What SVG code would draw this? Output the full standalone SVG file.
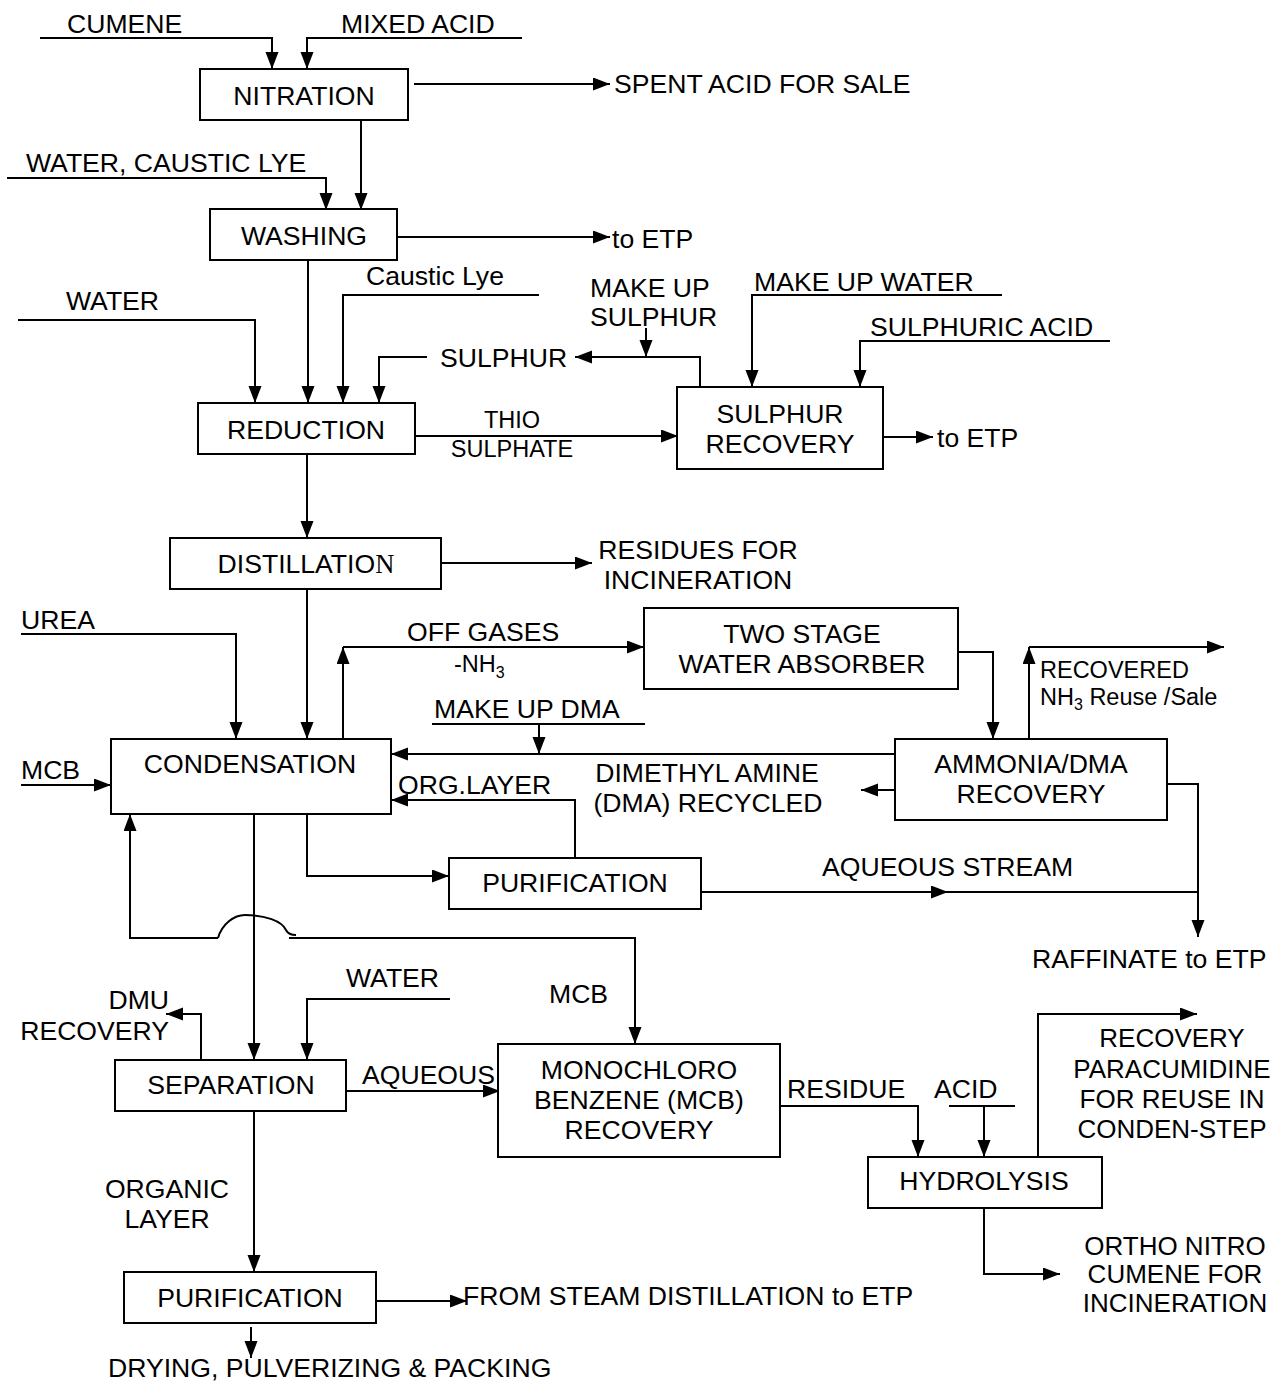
<svg xmlns="http://www.w3.org/2000/svg" width="1277" height="1381" viewBox="0 0 1277 1381">
<style>
text{font-family:"Liberation Sans",Arial,sans-serif;font-size:26.6px;fill:#000}
.s{font-size:23.5px}
.r{font-size:26px}
.m{text-anchor:middle}
.e{text-anchor:end}
rect{fill:#fff;stroke:#000;stroke-width:2}
#connectors path{fill:none;stroke:#000;stroke-width:2}
</style>
<defs>
<marker id="a" markerUnits="userSpaceOnUse" markerWidth="18" markerHeight="14" refX="17" refY="6.5" orient="auto">
<path d="M0,0 L17,6.5 L0,13 z" fill="#000"/>
</marker>
</defs>
<rect x="0" y="0" width="1277" height="1381" style="stroke:none"/>
<g id="connectors">
<path d="M40,38 H272 V69" marker-end="url(#a)"/>
<path d="M522,38 H307 V69" marker-end="url(#a)"/>
<path d="M414,84 H610" marker-end="url(#a)"/>
<path d="M361,120 V210" marker-end="url(#a)"/>
<path d="M7,178 H326 V210" marker-end="url(#a)"/>
<path d="M397,237 H610" marker-end="url(#a)"/>
<path d="M308,260 V403" marker-end="url(#a)"/>
<path d="M539,295 H343 V403" marker-end="url(#a)"/>
<path d="M18,320 H255 V403" marker-end="url(#a)"/>
<path d="M427,357 H379 V403" marker-end="url(#a)"/>
<path d="M700,387 V357 H575" marker-end="url(#a)"/>
<path d="M646,328 V357" marker-end="url(#a)"/>
<path d="M1002,295 H752 V387" marker-end="url(#a)"/>
<path d="M1110,341 H860 V387" marker-end="url(#a)"/>
<path d="M415,436 H678" marker-end="url(#a)"/>
<path d="M883,437 H933" marker-end="url(#a)"/>
<path d="M307,454 V538" marker-end="url(#a)"/>
<path d="M441,563 H592" marker-end="url(#a)"/>
<path d="M307,589 V739" marker-end="url(#a)"/>
<path d="M21,634 H236 V739" marker-end="url(#a)"/>
<path d="M21,785 H111" marker-end="url(#a)"/>
<path d="M343,739 V647" marker-end="url(#a)"/>
<path d="M343,647 H644" marker-end="url(#a)"/>
<path d="M958,652 H993 V739" marker-end="url(#a)"/>
<path d="M1029,739 V647" marker-end="url(#a)"/>
<path d="M1029,647 H1224" marker-end="url(#a)"/>
<path d="M432,724 H645"/>
<path d="M539,724 V754" marker-end="url(#a)"/>
<path d="M895,754 H391" marker-end="url(#a)"/>
<path d="M895,790 H861" marker-end="url(#a)"/>
<path d="M1167,784 H1198 V937" marker-end="url(#a)"/>
<path d="M700,892 H948" marker-end="url(#a)"/>
<path d="M940,892 H1198"/>
<path d="M575,858 V800 H391" marker-end="url(#a)"/>
<path d="M307,814 V876 H449" marker-end="url(#a)"/>
<path d="M254,814 V1060" marker-end="url(#a)"/>
<path d="M218,938 H130 V814" marker-end="url(#a)"/>
<path d="M218,938 C222,924 234,915 245,915 C265,915 282,921 286,930 C288,934 291,935 296,935"/>
<path d="M289,938 H635 V1044" marker-end="url(#a)"/>
<path d="M450,999 H307 V1060" marker-end="url(#a)"/>
<path d="M201,1060 V1014 H166" marker-end="url(#a)"/>
<path d="M346,1091 H500" marker-end="url(#a)"/>
<path d="M254,1111 V1272" marker-end="url(#a)"/>
<path d="M376,1301 H467" marker-end="url(#a)"/>
<path d="M251,1327 V1358" marker-end="url(#a)"/>
<path d="M780,1106 H918 V1157" marker-end="url(#a)"/>
<path d="M949,1106 H1015"/>
<path d="M984,1106 V1157" marker-end="url(#a)"/>
<path d="M1038,1157 V1014 H1197" marker-end="url(#a)"/>
<path d="M984,1208 V1274 H1060" marker-end="url(#a)"/>
</g>
<g id="nitration"><rect x="200" y="69" width="208" height="51"/><text class="m" x="304" y="105">NITRATION</text></g>
<g id="washing"><rect x="210" y="209" width="187" height="51"/><text class="m" x="304" y="245">WASHING</text></g>
<g id="reduction"><rect x="198" y="403" width="217" height="51"/><text class="m" x="306" y="439">REDUCTION</text></g>
<g id="sulphur-recovery"><rect x="677" y="387" width="206" height="82"/><text class="m" x="780" y="423">SULPHUR</text><text class="m" x="780" y="453">RECOVERY</text></g>
<g id="distillation"><rect x="170" y="538" width="271" height="51"/><text class="m" x="306" y="573">DISTILLATIO<tspan style="font-family:'Liberation Serif',serif">N</tspan></text></g>
<g id="condensation"><rect x="111" y="739" width="280" height="75"/><text class="m" x="250" y="773">CONDENSATION</text></g>
<g id="two-stage"><rect x="644" y="608" width="314" height="81"/><text class="m" x="802" y="643">TWO STAGE</text><text class="m" x="802" y="673">WATER ABSORBER</text></g>
<g id="ammonia"><rect x="895" y="739" width="272" height="81"/><text class="m" x="1031" y="773">AMMONIA/DMA</text><text class="m" x="1031" y="803">RECOVERY</text></g>
<g id="purification1"><rect x="449" y="858" width="252" height="51"/><text class="m" x="575" y="892">PURIFICATION</text></g>
<g id="separation"><rect x="115" y="1060" width="231" height="51"/><text class="m" x="231" y="1094">SEPARATION</text></g>
<g id="mcb-recovery"><rect x="498" y="1044" width="282" height="113"/><text class="m" x="639" y="1079">MONOCHLORO</text><text class="m" x="639" y="1109">BENZENE (MCB)</text><text class="m" x="639" y="1139">RECOVERY</text></g>
<g id="hydrolysis"><rect x="868" y="1157" width="234" height="51"/><text class="m" x="984" y="1190">HYDROLYSIS</text></g>
<g id="purification2"><rect x="124" y="1272" width="252" height="51"/><text class="m" x="250" y="1307">PURIFICATION</text></g>
<g id="labels">
<text x="67" y="33">CUMENE</text>
<text x="341" y="33">MIXED ACID</text>
<text x="614" y="93">SPENT ACID FOR SALE</text>
<text x="26" y="172">WATER, CAUSTIC LYE</text>
<text x="612" y="248">to ETP</text>
<text x="366" y="285">Caustic Lye</text>
<text x="66" y="310">WATER</text>
<text x="590" y="297">MAKE UP</text>
<text x="590" y="326">SULPHUR</text>
<text x="754" y="291">MAKE UP WATER</text>
<text x="870" y="336">SULPHURIC ACID</text>
<text x="440" y="367">SULPHUR</text>
<text class="s m" x="512" y="428">THIO</text>
<text class="s m" x="512" y="457">SULPHATE</text>
<text x="937" y="447">to ETP</text>
<text class="m" x="698" y="559">RESIDUES FOR</text>
<text class="m" x="698" y="589">INCINERATION</text>
<text x="21" y="629">UREA</text>
<text x="407" y="641">OFF GASES</text>
<text class="s" x="454" y="672">-NH<tspan dy="6" style="font-size:16px">3</tspan></text>
<text x="434" y="718">MAKE UP DMA</text>
<text x="21" y="779">MCB</text>
<text class="m" x="707" y="782">DIMETHYL AMINE</text>
<text class="m" x="708" y="812">(DMA) RECYCLED</text>
<text x="398" y="794">ORG.LAYER</text>
<text class="s" x="1040" y="678">RECOVERED</text>
<text class="s" x="1040" y="705">NH<tspan dy="5" style="font-size:16px">3</tspan><tspan dy="-5"> Reuse /Sale</tspan></text>
<text x="822" y="876">AQUEOUS STREAM</text>
<text x="1032" y="968">RAFFINATE to ETP</text>
<text class="e" x="169" y="1009">DMU</text>
<text class="e" x="169" y="1040">RECOVERY</text>
<text x="346" y="987">WATER</text>
<text x="549" y="1003">MCB</text>
<text x="362" y="1084">AQUEOUS</text>
<text x="787" y="1098">RESIDUE</text>
<text x="934" y="1098">ACID</text>
<text class="m r" x="1172" y="1047">RECOVERY</text>
<text class="m r" x="1172" y="1078">PARACUMIDINE</text>
<text class="m r" x="1172" y="1108">FOR REUSE IN</text>
<text class="m r" x="1172" y="1138">CONDEN-STEP</text>
<text class="m" x="167" y="1198">ORGANIC</text>
<text class="m" x="167" y="1228">LAYER</text>
<text class="m r" x="1175" y="1255">ORTHO NITRO</text>
<text class="m r" x="1175" y="1283">CUMENE FOR</text>
<text class="m r" x="1175" y="1312">INCINERATION</text>
<text x="463" y="1305">FROM STEAM DISTILLATION to ETP</text>
<text x="108" y="1377">DRYING, PULVERIZING &amp; PACKING</text>
</g>
</svg>
